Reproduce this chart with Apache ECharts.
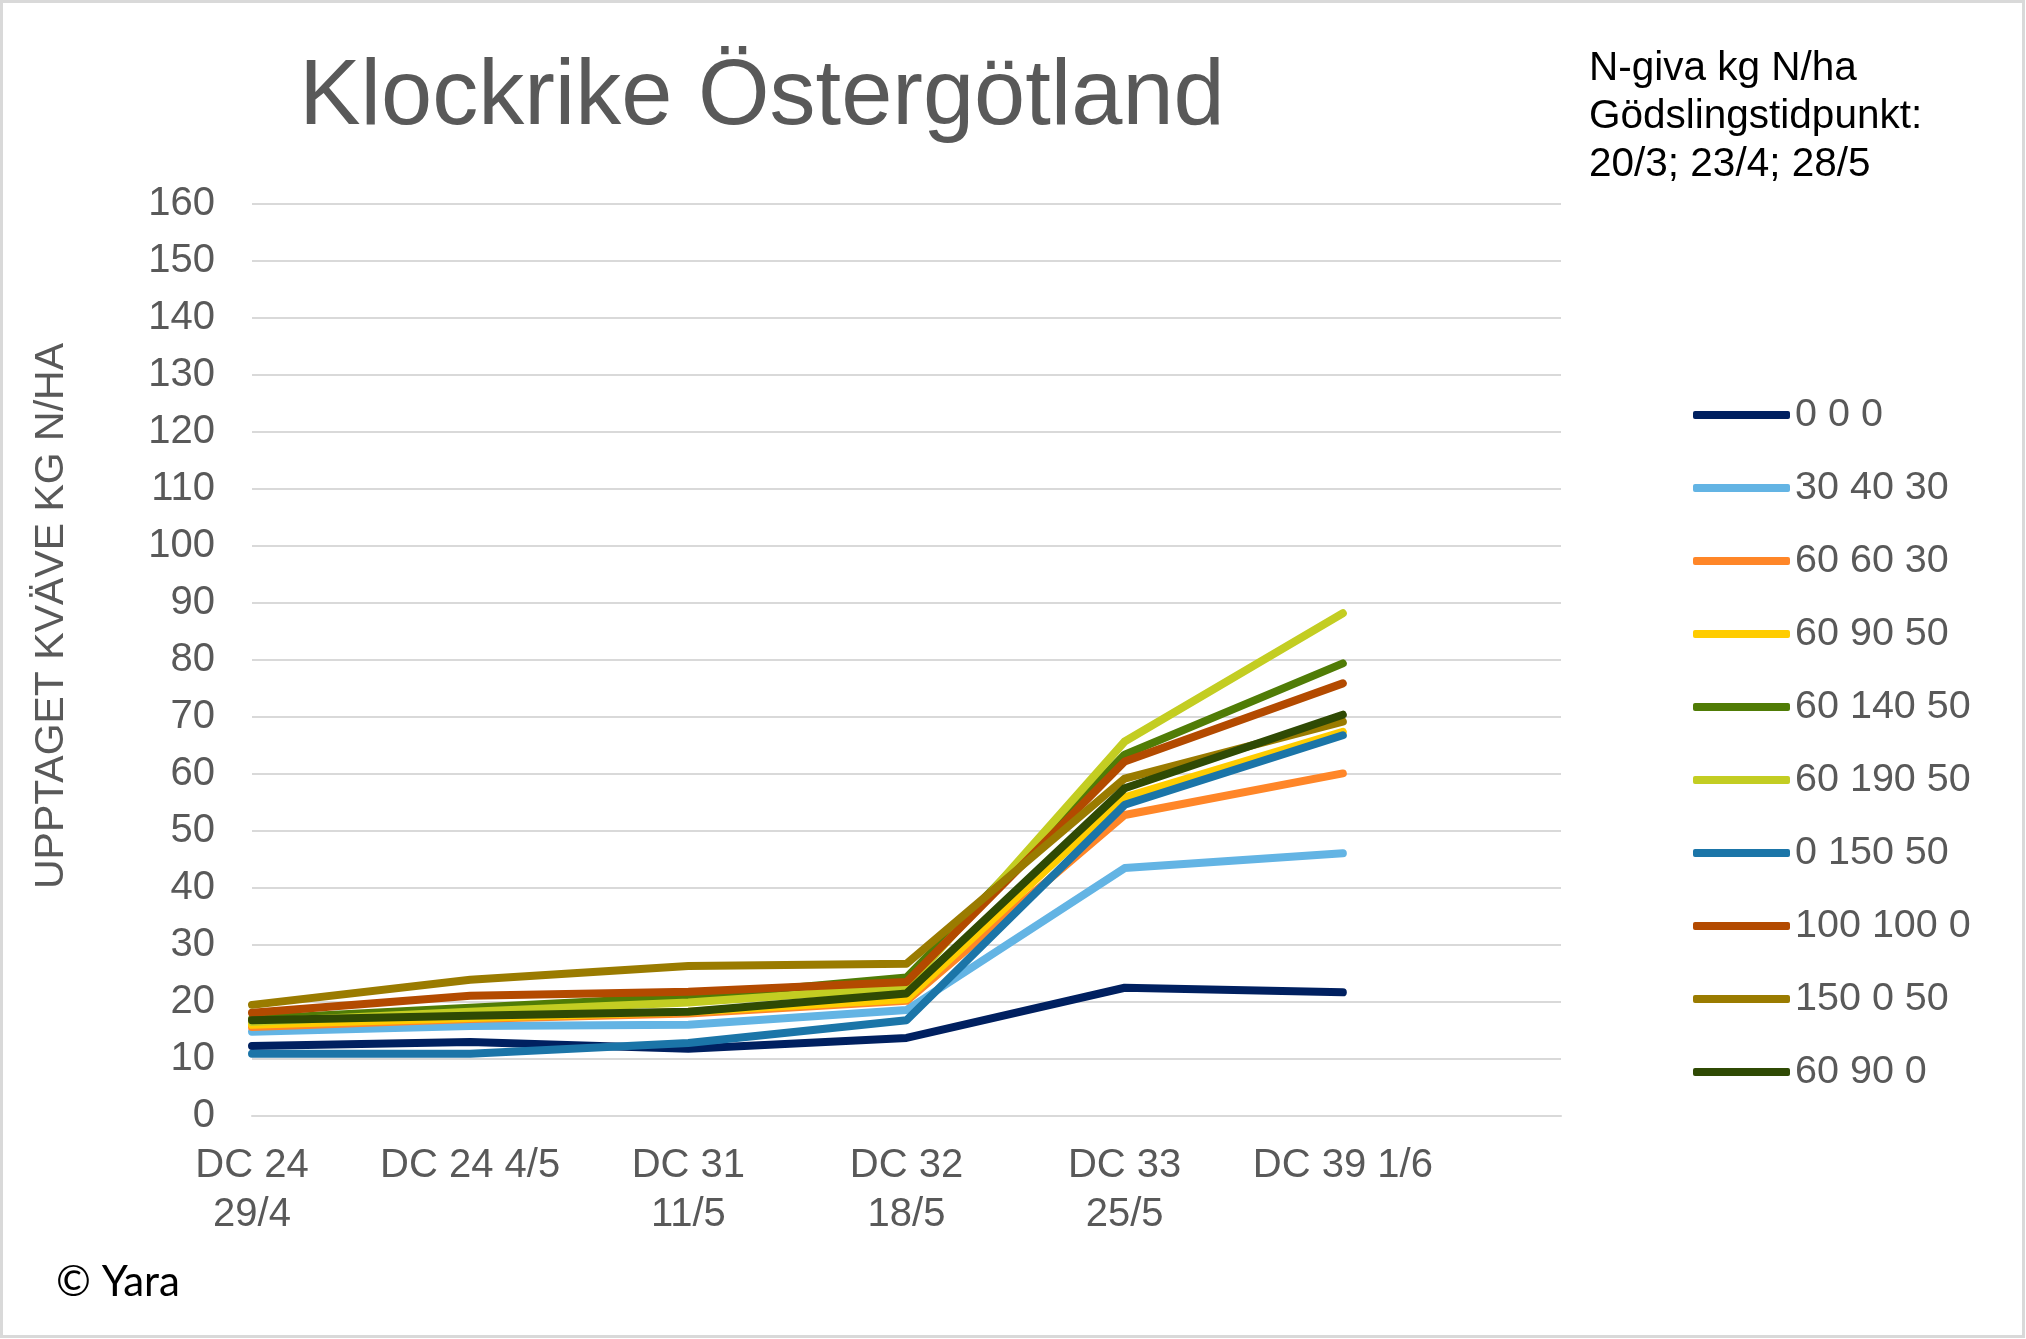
<!DOCTYPE html>
<html>
<head>
<meta charset="utf-8">
<script src="https://cdn.jsdelivr.net/npm/echarts@6/dist/echarts.min.js"></script>
<style>html,body{margin:0;padding:0;background:#fff}#c{width:2026px;height:1339px}</style>
</head>
<body>
<div id="c"></div>
<script>
const categories = ['DC 24\n29/4', 'DC 24 4/5', 'DC 31\n11/5', 'DC 32\n18/5', 'DC 33\n25/5', 'DC 39 1/6', ''];
const yTicks = { min: 0, max: 160, interval: 10 };
const seriesNames = ['0 0 0', '30 40 30', '60 60 30', '60 90 50', '60 140 50', '60 190 50', '0 150 50', '100 100 0', '150 0 50', '60 90 0'];
const s000 = [12.3, 13.0, 11.8, 13.7, 22.5, 21.7, null];
const s304030 = [14.8, 15.8, 16.0, 18.6, 43.5, 46.1, null];
const s606030 = [15.6, 17.0, 18.0, 20.2, 52.8, 60.1, null];
const s609050 = [16.0, 17.2, 18.3, 20.5, 55.9, 67.4, null];
const s6014050 = [17.0, 19.0, 20.9, 24.3, 63.4, 79.4, null];
const s6019050 = [16.5, 18.3, 19.9, 22.6, 65.7, 88.2, null];
const s015050 = [10.9, 10.9, 12.8, 16.8, 54.6, 66.8, null];
const s1001000 = [18.1, 21.1, 21.8, 23.5, 62.2, 75.9, null];
const s150050 = [19.5, 23.9, 26.3, 26.7, 59.2, 69.2, null];
const s60900 = [16.8, 17.6, 18.3, 21.5, 57.5, 70.4, null];
const seriesValues = [s000, s304030, s606030, s609050, s6014050, s6019050, s015050, s1001000, s150050, s60900];
const colors = ['#002060', '#63B4E4', '#FF8628', '#FFCC00', '#507C06', '#C3CD22', '#1B75A8', '#B34A00', '#9A7B00', '#2F4A04'];

const FONT = '"Liberation Sans", Arial, sans-serif';
const chart = echarts.init(document.getElementById('c'), null, { renderer: 'canvas' });

chart.setOption({
  backgroundColor: '#ffffff',
  animation: false,
  color: colors,
  title: [
    { text: 'Klockrike Östergötland', left: 757, top: 48, textAlign: 'center',
      textStyle: { fontFamily: FONT, fontSize: 92, fontWeight: 'normal', color: '#595959', lineHeight: 92 } },
    { text: 'N-giva kg N/ha\nGödslingstidpunkt:\n20/3; 23/4; 28/5', left: 1584, top: 40,
      textStyle: { fontFamily: FONT, fontSize: 40.5, fontWeight: 'normal', color: '#000000', lineHeight: 48 } },
    { text: '© Yara', left: 51, top: 1255,
      textStyle: { fontFamily: 'Lato, "Open Sans", sans-serif', fontSize: 42, fontWeight: 'normal', color: '#000000', lineHeight: 44 } }
  ],
  legend: {
    orient: 'vertical',
    left: 1688,
    top: 390,
    itemWidth: 97,
    itemHeight: 8,
    itemGap: 33,
    icon: 'roundRect',
    data: seriesNames,
    textStyle: { fontFamily: FONT, fontSize: 39.5, color: '#595959', lineHeight: 40 }
  },
  grid: { left: 252, right: 465, top: 204, bottom: 223, containLabel: false },
  xAxis: {
    type: 'category',
    data: categories,
    boundaryGap: false,
    axisLine: { show: true, lineStyle: { color: '#d9d9d9', width: 2 } },
    axisTick: { show: false },
    axisLabel: { fontFamily: FONT, fontSize: 40, color: '#595959', lineHeight: 49, margin: 25, interval: 0 },
    splitLine: { show: false }
  },
  yAxis: {
    type: 'value',
    min: yTicks.min, max: yTicks.max, interval: yTicks.interval,
    axisLine: { show: false },
    axisTick: { show: false },
    axisLabel: { fontFamily: FONT, fontSize: 40, color: '#595959', margin: 37 },
    splitLine: { show: true, lineStyle: { color: '#d9d9d9', width: 2 } }
  },
  graphic: [
    { type: 'text', x: 52, y: 616, rotation: Math.PI / 2,
      style: { text: 'UPPTAGET KVÄVE KG N/HA', fontFamily: FONT, fontSize: 41, fill: '#595959',
               textAlign: 'center', textVerticalAlign: 'middle' } },
    { type: 'rect', shape: { x: 1.5, y: 1.5, width: 2022, height: 1335 }, silent: true, z: -10,
      style: { fill: 'none', stroke: '#d9d9d9', lineWidth: 3 } }
  ],
  series: seriesNames.map((n, i) => ({
    name: n,
    type: 'line',
    data: seriesValues[i],
    symbol: 'none',
    showSymbol: false,
    connectNulls: false,
    lineStyle: { width: 8, color: colors[i], cap: 'round', join: 'round' },
    itemStyle: { color: colors[i] },
    z: 2 + i
  }))
});
</script>
</body>
</html>
